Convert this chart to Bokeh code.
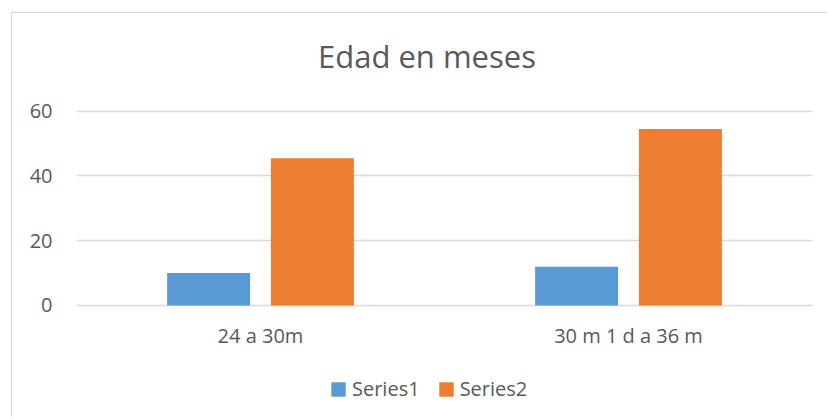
from bokeh.plotting import figure
from bokeh.models import (ColumnDataSource, FactorRange, Range1d, FixedTicker,
                          Legend, LegendItem)
from bokeh.core.properties import value
from bokeh.transform import dodge
from bokeh.embed import file_html
from bokeh.resources import INLINE

categories = ["24 a 30m", "30 m 1 d a 36 m"]
series1 = [10, 12]
series2 = [45.5, 54.5]
series_names = ["Series1", "Series2"]
y_ticks = [0, 20, 40, 60]
title_text = "Edad en meses"

TEXT = "#595959"
GRID = "#d9d9d9"
FONT = "Open Sans"

# layout constants (data units on the y axis / synthetic x)
Y_LOW, Y_HIGH = -34.9, 90.17
CAT_LABEL_Y = -9.2
TITLE_Y = 76.9
TITLE_X = 0.9524

src = ColumnDataSource(dict(cat=categories, s1=series1, s2=series2))

p = figure(width=816, height=405, output_backend="svg", toolbar_location=None,
           x_range=FactorRange(*categories), y_range=Range1d(Y_LOW, Y_HIGH),
           x_axis_location=None,
           min_border_left=64, min_border_right=16, min_border_top=0,
           min_border_bottom=0)
p.styles = {"margin-left": "11px", "margin-top": "12px",
            "border-left": "1px solid #d9d9d9",
            "border-top": "1px solid #d9d9d9"}
p.outline_line_color = None
p.background_fill_color = "white"
p.border_fill_color = "white"

r1 = p.vbar(x=dodge("cat", -0.141, range=p.x_range), top="s1", width=0.2255,
            source=src, fill_color="#5B9BD5", line_color=None)
r2 = p.vbar(x=dodge("cat", 0.141, range=p.x_range), top="s2", width=0.2255,
            source=src, fill_color="#ED7D31", line_color=None)

# category labels
p.text(x="cat", y=CAT_LABEL_Y, text="cat", source=src,
       text_font=value(FONT), text_font_size="20px", text_color=TEXT,
       text_align="center", text_baseline="alphabetic")

# title
p.text(x=[TITLE_X], y=[TITLE_Y], text=[title_text],
       text_font=value(FONT), text_font_size="31px", text_color=TEXT,
       text_align="center", text_baseline="alphabetic")

p.yaxis.ticker = FixedTicker(ticks=y_ticks)
p.yaxis.axis_line_color = None
p.yaxis.major_tick_line_color = None
p.yaxis.minor_tick_line_color = None
p.yaxis.major_tick_out = 0
p.yaxis.major_tick_in = 0
p.yaxis.major_label_standoff = 24
p.yaxis.major_label_text_font = FONT
p.yaxis.major_label_text_font_size = "20px"
p.yaxis.major_label_text_color = TEXT

p.xgrid.grid_line_color = None
p.ygrid.grid_line_color = GRID
p.ygrid.grid_line_width = 1.3
p.ygrid.ticker = FixedTicker(ticks=y_ticks)

legend = Legend(items=[LegendItem(label=series_names[0], renderers=[r1]),
                       LegendItem(label=series_names[1], renderers=[r2])],
                orientation="horizontal", location=(253, 16),
                glyph_width=18, glyph_height=18, label_standoff=5, spacing=17,
                padding=0, margin=0, border_line_color=None,
                background_fill_alpha=0,
                label_text_font=FONT, label_text_font_size="20px",
                label_text_color=TEXT)
p.add_layout(legend, "center")

open("out.html", "w").write(file_html(p, INLINE))
